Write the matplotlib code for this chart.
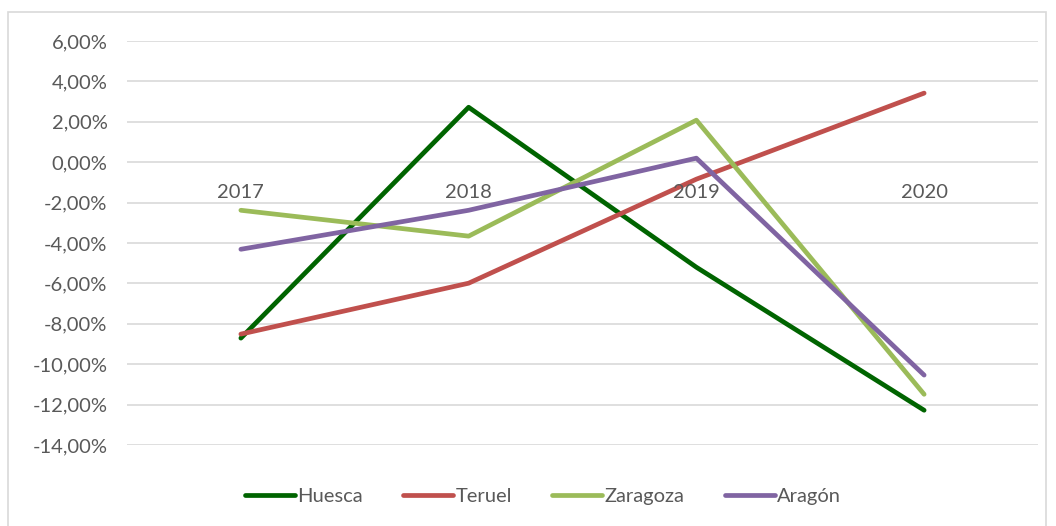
import matplotlib.pyplot as plt
from matplotlib.patches import Rectangle
from matplotlib.ticker import FuncFormatter

years = ["2017", "2018", "2019", "2020"]
huesca = [-8.71, 2.72, -5.2, -12.28]
teruel = [-8.51, -5.99, -0.84, 3.42]
zaragoza = [-2.38, -3.66, 2.08, -11.49]
aragon = [-4.31, -2.38, 0.2, -10.54]

series = [("Huesca", huesca, "#006400"),
          ("Teruel", teruel, "#C0504D"),
          ("Zaragoza", zaragoza, "#9BBB59"),
          ("Aragón", aragon, "#8064A2")]

text_color = "#595959"
fsize = 14.5
plt.rcParams['font.family'] = ['Lato', 'DejaVu Sans']

fig = plt.figure(figsize=(10.56, 5.26), dpi=100)
# outer chart border
fig.patches.append(Rectangle((8 / 1056, -0.01), 1038 / 1056, 1 - 12 / 526 + 0.01,
                             transform=fig.transFigure, fill=False,
                             edgecolor="#D9D9D9", linewidth=1.2))

ax = fig.add_axes([127 / 1056, 81 / 526, 911 / 1056, 404 / 526])
x = list(range(len(years)))
for name, vals, col in series:
    ax.plot(x, vals, color=col, linewidth=3.4, solid_capstyle="round", label=name)

ax.set_xlim(-0.5, len(years) - 0.5)
ax.set_ylim(-14, 6)
ax.set_yticks(range(-14, 7, 2))
ax.yaxis.set_major_formatter(FuncFormatter(lambda v, p: f"{v:.2f}%".replace(".", ",")))
ax.grid(axis="y", color="#D9D9D9", linewidth=1.2)
ax.set_axisbelow(True)
for s in ax.spines.values():
    s.set_visible(False)
ax.tick_params(axis="y", length=0, pad=14, labelsize=fsize, labelcolor=text_color)
ax.set_xticks([])

# category labels sit just under the zero line
for i, yr in enumerate(years):
    ax.annotate(yr, (i, 0), xytext=(0, -30), textcoords="offset pixels",
                ha="center", va="center", fontsize=fsize, color=text_color)

fig.legend(loc="center", bbox_to_anchor=(0.514, 1 - 496 / 526), ncol=4,
           frameon=False, fontsize=fsize, labelcolor=text_color,
           handlelength=2.5, handletextpad=0.1, columnspacing=2.0)

fig.savefig("out.png", dpi=100)
